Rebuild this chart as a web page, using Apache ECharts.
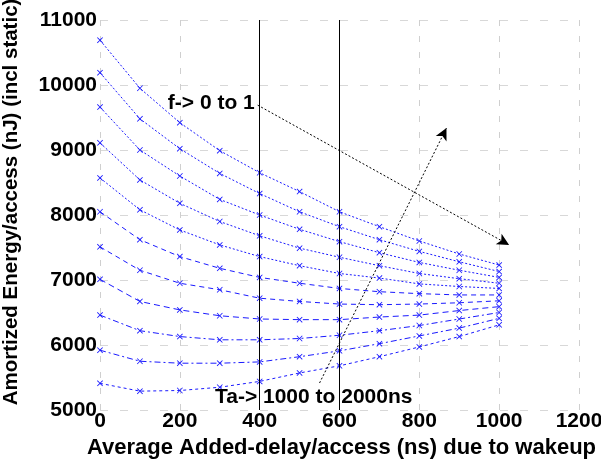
<!DOCTYPE html>
<html>
<head>
<meta charset="utf-8">
<script src="https://cdn.jsdelivr.net/npm/echarts@6/dist/echarts.min.js"></script>
<style>html,body{margin:0;padding:0;background:#fff}#c{width:601px;height:463px}</style>
</head>
<body>
<div id="c"></div>
<script>
const xValues = [0, 100, 200, 300, 400, 500, 600, 700, 800, 900, 1000];
const s1 = [10690, 9950, 9420, 8990, 8650, 8360, 8050, 7820, 7600, 7400, 7230];
const s2 = [10190, 9480, 9020, 8640, 8330, 8050, 7820, 7620, 7440, 7280, 7130];
const s3 = [9660, 9000, 8600, 8240, 8000, 7780, 7590, 7420, 7270, 7150, 7040];
const s4 = [9110, 8540, 8180, 7900, 7680, 7490, 7350, 7220, 7100, 7020, 6950];
const s5 = [8570, 8080, 7770, 7540, 7360, 7220, 7100, 7030, 6940, 6900, 6870];
const s6 = [8050, 7620, 7360, 7180, 7040, 6950, 6870, 6820, 6790, 6770, 6770];
const s7 = [7510, 7150, 6950, 6850, 6720, 6670, 6630, 6620, 6630, 6650, 6680];
const s8 = [7010, 6670, 6540, 6450, 6400, 6390, 6390, 6430, 6460, 6530, 6590];
const s9 = [6460, 6220, 6130, 6080, 6080, 6100, 6150, 6220, 6300, 6400, 6500];
const s10 = [5920, 5750, 5720, 5720, 5740, 5820, 5910, 6020, 6140, 6260, 6410];
const s11 = [5410, 5290, 5300, 5350, 5440, 5570, 5680, 5820, 5970, 6130, 6310];
const allSeries = [s1, s2, s3, s4, s5, s6, s7, s8, s9, s10, s11];
const refLines = [400, 600];
const arrowF = [[395, 9690], [1025, 7540]];
const arrowTa = [[550, 5415], [868, 9338]];
const textF = {text: 'f-> 0 to 1', at: [170, 9720]};
const textTa = {text: 'Ta-> 1000 to 2000ns', at: [288, 5200]};

const xSym = 'path://M0,1L1,0L5,4L9,0L10,1L6,5L10,9L9,10L5,6L1,10L0,9L4,5Z';
const dashes = [[2,2],[2,2],[2,2],[2,2],[2,2],[5,4],[5,4],[6,4],[6,3,2,3],[6,3,2,3],[3,3]];
const font = '"Liberation Sans", Arial, sans-serif';

const series = allSeries.map((vals, i) => ({
  type: 'line',
  data: xValues.map((x, k) => [x, vals[k]]),
  symbol: xSym,
  symbolSize: 6,
  showSymbol: true,
  itemStyle: {color: '#1a1aff'},
  lineStyle: {color: '#1a1aff', width: 1, type: dashes[i]},
  animation: false,
  z: 3
}));

series[0].markLine = {
  silent: true,
  animation: false,
  symbol: 'none',
  label: {show: false},
  data: [
    ...refLines.map(v => ({xAxis: v, lineStyle: {color: '#000', width: 1, type: 'solid'}})),
    [{coord: arrowF[0], symbol: 'none'}, {coord: arrowF[1], symbol: 'arrow', symbolSize: [9, 12], lineStyle: {color: '#000', width: 1, type: [2, 2]}}],
    [{coord: arrowTa[0], symbol: 'none'}, {coord: arrowTa[1], symbol: 'arrow', symbolSize: [9, 12], lineStyle: {color: '#000', width: 1, type: [2, 2]}}]
  ]
};
series[0].markPoint = {
  silent: true,
  animation: false,
  symbol: 'circle',
  symbolSize: 0,
  data: [textF, textTa].map(t => ({
    coord: t.at,
    label: {show: true, position: 'inside', align: 'left', verticalAlign: 'middle', formatter: t.text,
      color: '#000', fontWeight: 'bold', fontSize: 21, fontFamily: font}
  }))
};

const chart = echarts.init(document.getElementById('c'), null, {renderer: 'canvas'});
chart.setOption({
  animation: false,
  backgroundColor: '#fff',
  grid: {left: 100, right: 22, top: 20, bottom: 53, containLabel: false, outerBoundsMode: 'none'},
  xAxis: {
    type: 'value', min: 0, max: 1200, interval: 200,
    name: 'Average Added-delay/access (ns) due to wakeup',
    nameLocation: 'middle', nameGap: 20,
    nameTextStyle: {color: '#000', fontWeight: 'bold', fontSize: 22, fontFamily: font, padding: [0, 0, 0, 4]},
    axisLine: {show: false}, axisTick: {show: false},
    axisLabel: {color: '#000', fontWeight: 'bold', fontSize: 21, fontFamily: font, margin: 1, formatter: v => String(v)},
    splitLine: {show: true, lineStyle: {color: '#cfcfcf', width: 1, type: [6, 10]}}
  },
  yAxis: {
    type: 'value', min: 5000, max: 11000, interval: 1000,
    name: 'Amortized Energy/access (nJ) (incl static)',
    nameLocation: 'middle', nameGap: 78,
    nameTextStyle: {color: '#000', fontWeight: 'bold', fontSize: 20.5, fontFamily: font, padding: [0, 0, 0, 26]},
    axisLine: {show: false}, axisTick: {show: false},
    axisLabel: {color: '#000', fontWeight: 'bold', fontSize: 21, fontFamily: font, margin: 3, formatter: v => String(v)},
    splitLine: {show: true, lineStyle: {color: '#d8d8d8', width: 1, type: [8, 12]}}
  },
  series: series
});
</script>
</body>
</html>
